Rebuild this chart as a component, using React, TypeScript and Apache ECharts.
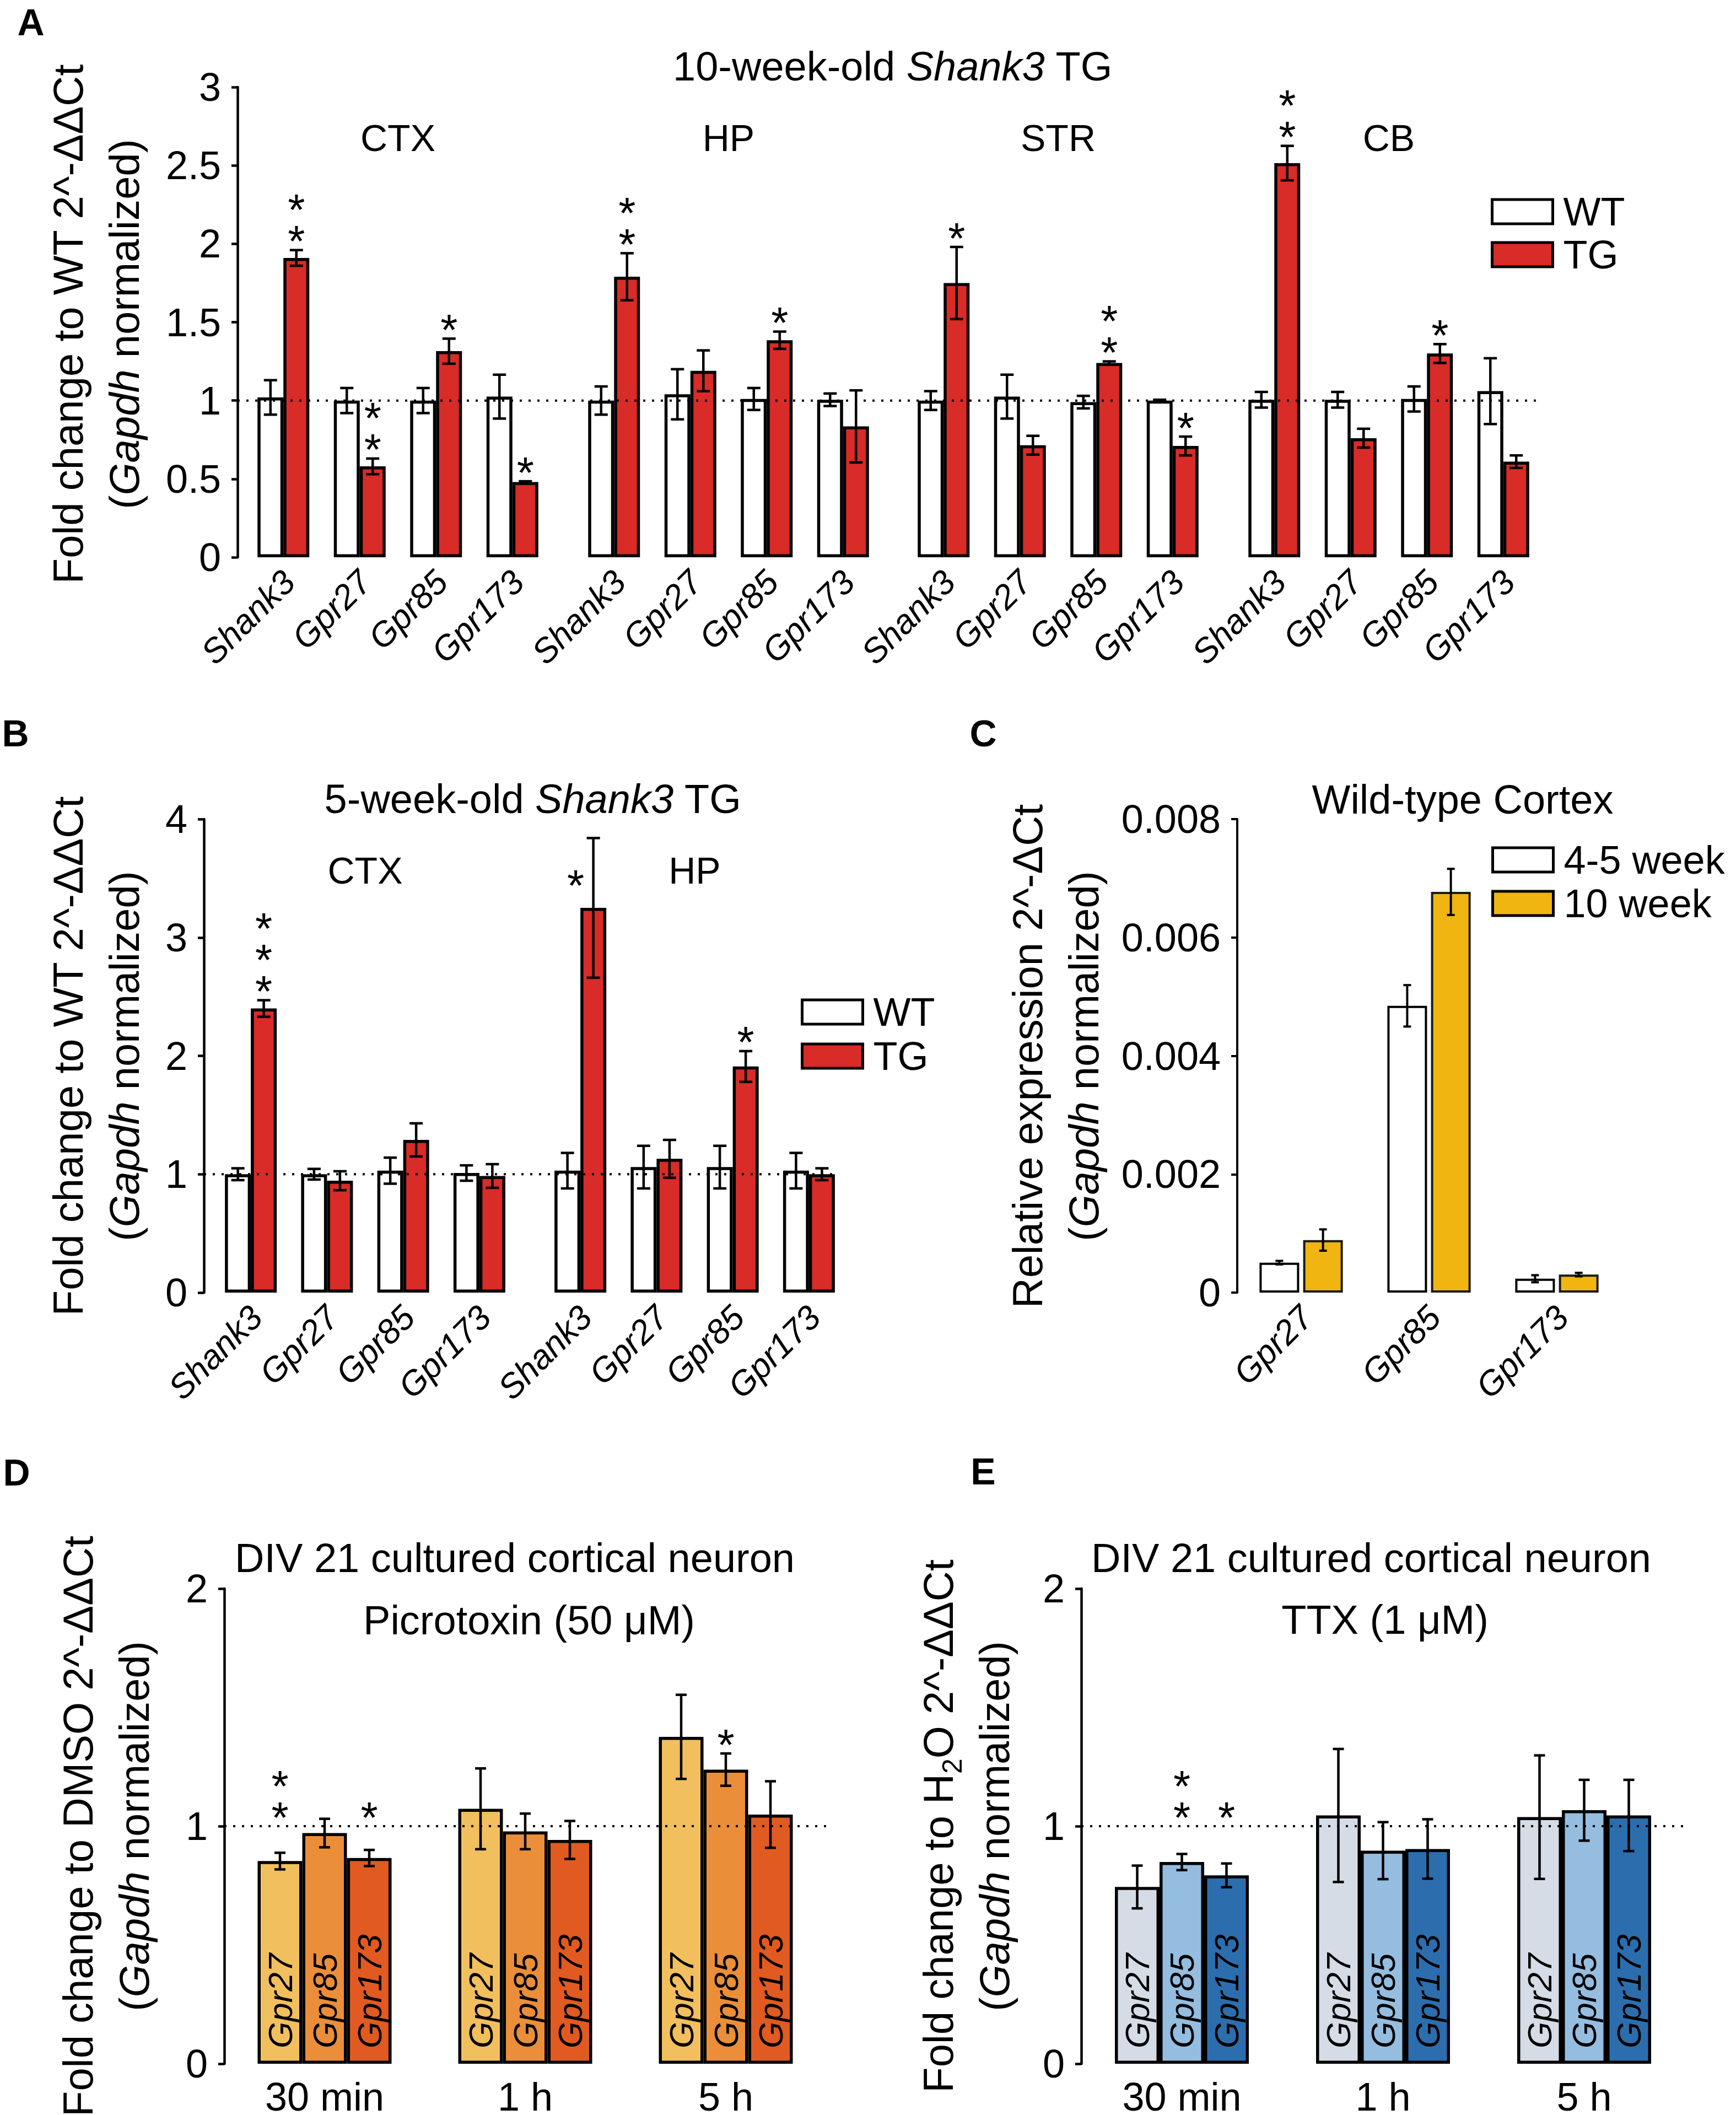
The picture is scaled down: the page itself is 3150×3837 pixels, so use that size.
import React, { useEffect, useRef } from 'react';
import * as echarts from 'echarts';

const FONT = '"Liberation Sans", Arial, Helvetica, sans-serif';

// ---------- Panel A : 10-week-old Shank3 TG ----------
const genesA = ['Shank3', 'Gpr27', 'Gpr85', 'Gpr173'];
const regionsA = ['CTX', 'HP', 'STR', 'CB'];
const wtA = [
  [1.02, 1.0, 1.0, 1.025],
  [1.0, 1.04, 1.01, 1.005],
  [1.0, 1.025, 0.99, 1.0],
  [1.005, 1.005, 1.01, 1.06],
];
const wtErrA = [
  [0.11, 0.08, 0.08, 0.14],
  [0.09, 0.16, 0.07, 0.04],
  [0.06, 0.14, 0.04, 0.005],
  [0.05, 0.05, 0.08, 0.21],
];
const tgA = [
  [1.91, 0.58, 1.315, 0.48],
  [1.79, 1.19, 1.385, 0.835],
  [1.75, 0.715, 1.24, 0.71],
  [2.515, 0.76, 1.3, 0.61],
];
const tgErrA = [
  [0.05, 0.05, 0.08, 0.005],
  [0.15, 0.13, 0.055, 0.23],
  [0.23, 0.06, 0.01, 0.06],
  [0.11, 0.06, 0.06, 0.04],
];
const starsA = [
  ['**', '**', '*', '*'],
  ['**', '', '*', ''],
  ['*', '', '**', '*'],
  ['**', '', '*', ''],
];
const yAxisA = [0, 3, 0.5]; // min, max, interval

// ---------- Panel B : 5-week-old Shank3 TG ----------
const genesB = ['Shank3', 'Gpr27', 'Gpr85', 'Gpr173'];
const regionsB = ['CTX', 'HP'];
const wtB = [
  [1.0, 1.0, 1.03, 1.01],
  [1.03, 1.06, 1.06, 1.03],
];
const wtErrB = [
  [0.05, 0.045, 0.11, 0.065],
  [0.15, 0.18, 0.18, 0.15],
];
const tgB = [
  [2.4, 0.945, 1.29, 0.985],
  [3.25, 1.13, 1.91, 1.0],
];
const tgErrB = [
  [0.07, 0.08, 0.14, 0.1],
  [0.59, 0.16, 0.13, 0.05],
];
const starsB = [
  ['***', '', '', ''],
  ['*', '', '*', ''],
];
const starSideB = [
  ['', '', '', ''],
  ['left', '', '', ''],
];
const yAxisB = [0, 4, 1];

// ---------- Panel C : Wild-type Cortex ----------
const genesC = ['Gpr27', 'Gpr85', 'Gpr173'];
const youngC = [0.000506, 0.004845, 0.000234];
const youngErrC = [0.00003, 0.00035, 0.00006];
const adultC = [0.000888, 0.00677, 0.000304];
const adultErrC = [0.00018, 0.00039, 0.00003];
const yAxisC = [0, 0.008, 0.002];

// ---------- Panel D : Picrotoxin ----------
const timesD = ['30 min', '1 h', '5 h'];
const seriesNamesDE = ['Gpr27', 'Gpr85', 'Gpr173'];
const meansD = [
  [0.853, 1.073, 1.376],
  [0.971, 0.978, 1.238],
  [0.866, 0.942, 1.049],
];
const errsD = [
  [0.035, 0.17, 0.177],
  [0.06, 0.075, 0.068],
  [0.034, 0.08, 0.14],
];
const starsD = [
  ['**', '', ''],
  ['', '', '*'],
  ['*', '', ''],
];

// ---------- Panel E : TTX ----------
const timesE = ['30 min', '1 h', '5 h'];
const meansE = [
  [0.744, 1.045, 1.038],
  [0.849, 0.897, 1.067],
  [0.793, 0.904, 1.045],
];
const errsE = [
  [0.09, 0.28, 0.26],
  [0.034, 0.12, 0.128],
  [0.05, 0.125, 0.15],
];
const starsE = [
  ['', '', ''],
  ['**', '', ''],
  ['*', '', ''],
];
const yAxisDE = [0, 2, 1];
const refLevel = 1;

// ---------- colours ----------
const RED = '#D92B27';
const YELLOW = '#F0B510';
const colorsD = ['#F2BF5E', '#EA8E3A', '#E05A21'];
const colorsE = ['#D5DCE6', '#95BDDF', '#2C6EAD'];

// ---------- star placement ----------
const STAR_GAP = 36;
const STAR_STEP = 57;
const STAR_SHIFT = 20;
const STAR_SIDE_DX = 32;

function errSeries(cfg: any) {
  const { xi, means, errs, offset, capHalf, lw, stars, sides, floor } = cfg;
  const fl = floor === undefined ? -Infinity : floor;
  return {
    type: 'custom',
    xAxisIndex: xi,
    yAxisIndex: xi,
    z: 6,
    silent: true,
    clip: false,
    data: means.map((m: number, i: number) => [i, m, errs[i]]),
    encode: { x: 0, y: 1 },
    renderItem: (params: any, api: any) => {
      const i = api.value(0);
      const m = api.value(1);
      const e = api.value(2);
      const c = api.coord([i, m]);
      const t = api.coord([i, m + e]);
      const b = api.coord([i, m - e]);
      const x = c[0] + offset;
      const ls = { stroke: '#000', lineWidth: lw };
      const children: any[] = [
        { type: 'line', shape: { x1: x, y1: t[1], x2: x, y2: b[1] }, style: ls },
        { type: 'line', shape: { x1: x - capHalf, y1: t[1], x2: x + capHalf, y2: t[1] }, style: ls },
        { type: 'line', shape: { x1: x - capHalf, y1: b[1], x2: x + capHalf, y2: b[1] }, style: ls },
      ];
      const s = stars ? stars[params.dataIndex] : '';
      if (s) {
        const side = sides ? sides[params.dataIndex] : '';
        let sx = x;
        let cy: number;
        if (side === 'left') {
          sx = x - STAR_SIDE_DX;
          cy = api.coord([i, m + e * 0.48])[1];
        } else {
          cy = api.coord([i, Math.max(m + e, fl)])[1] - STAR_GAP;
        }
        for (let k = 0; k < s.length; k++) {
          children.push({
            type: 'text',
            x: sx,
            y: cy - k * STAR_STEP + STAR_SHIFT,
            style: {
              text: '*',
              fontSize: 80,
              fontFamily: FONT,
              fill: '#000',
              align: 'center',
              verticalAlign: 'middle',
            },
          });
        }
      }
      return { type: 'group', children };
    },
  };
}

function visibleY(gi: number, r: number[], lw = 4.5) {
  return {
    type: 'value',
    gridIndex: gi,
    min: r[0],
    max: r[1],
    interval: r[2],
    axisLine: { show: true, lineStyle: { color: '#000', width: lw } },
    axisTick: { show: true, length: 11, lineStyle: { color: '#000', width: lw } },
    axisLabel: { fontSize: 72, fontFamily: FONT, color: '#000', margin: 30 },
    splitLine: { show: false },
  };
}
function hiddenY(gi: number, r: number[]) {
  return { type: 'value', gridIndex: gi, min: r[0], max: r[1], interval: r[2], show: false, splitLine: { show: false } };
}
function hiddenX(gi: number) {
  return { type: 'value', gridIndex: gi, min: 0, max: 1, show: false, splitLine: { show: false } };
}
function geneX(gi: number, data: string[]) {
  return {
    type: 'category',
    gridIndex: gi,
    data,
    axisLine: { show: false },
    axisTick: { show: false },
    axisLabel: {
      interval: 0,
      rotate: 45,
      fontStyle: 'italic',
      fontSize: 62,
      fontFamily: FONT,
      color: '#000',
      margin: 44,
      padding: [0, -14, 0, 0],
    },
  };
}
function timeX(gi: number, data: string[]) {
  return {
    type: 'category',
    gridIndex: gi,
    data,
    axisLine: { show: false },
    axisTick: { show: false },
    axisLabel: { interval: 0, fontSize: 72, fontFamily: FONT, color: '#000', margin: 24 },
  };
}

const dotted = { color: '#000', width: 4, type: [4, 12] as any };

function refLine(gi: number) {
  return {
    type: 'line',
    xAxisIndex: gi,
    yAxisIndex: gi,
    data: [[0, refLevel], [1, refLevel]],
    symbol: 'none',
    silent: true,
    z: 20,
    lineStyle: dotted,
  };
}

function txt(x: number, y: number, text: string, fontSize: number, extra: any = {}) {
  return {
    type: 'text',
    x,
    y,
    silent: true,
    style: {
      text,
      fontSize,
      fontFamily: FONT,
      fill: '#000',
      align: 'center',
      verticalAlign: 'middle',
      ...extra,
    },
  };
}

function yTitle(x: number, y: number, line1: string) {
  return {
    type: 'text',
    x,
    y,
    rotation: Math.PI / 2,
    silent: true,
    style: {
      text: line1 + '\n{a|(}{i|Gapdh}{a| normalized)}',
      fontSize: 76,
      fontFamily: FONT,
      fill: '#000',
      align: 'center',
      verticalAlign: 'middle',
      rich: {
        a: { fontSize: 76, fontFamily: FONT, fill: '#000', lineHeight: 102 },
        i: { fontSize: 76, fontFamily: FONT, fill: '#000', fontStyle: 'italic', lineHeight: 102 },
        s: { fontSize: 50, fontFamily: FONT, fill: '#000', lineHeight: 66, verticalAlign: 'bottom' },
      },
    },
  };
}

function buildOption() {
  const grids: any[] = [];
  const xAxes: any[] = [];
  const yAxes: any[] = [];
  const series: any[] = [];
  const g = (left: number, top: number, width: number, height: number) => {
    grids.push({ left, top, width, height, containLabel: false, outerBoundsMode: 'none' });
    return grids.length - 1;
  };

  // Panel A
  const aTop = 158, aH = 853;
  const a0 = g(431, aTop, 2359, aH);
  xAxes.push(hiddenX(a0));
  yAxes.push(visibleY(a0, yAxisA));
  series.push(refLine(a0));
  const aLefts = [445, 1045, 1643, 2243];
  const aW = 554;
  const regionGraphics: any[] = [];
  regionsA.forEach((reg, r) => {
    const gi = g(aLefts[r], aTop, aW, aH);
    xAxes.push(geneX(gi, genesA));
    yAxes.push(hiddenY(gi, yAxisA));
    series.push({
      type: 'bar', name: 'WT', xAxisIndex: gi, yAxisIndex: gi, data: wtA[r], barWidth: 47, barGap: '0%',
      itemStyle: { color: '#fff', borderColor: '#000', borderWidth: 5.5 },
    });
    series.push({
      type: 'bar', name: 'TG', xAxisIndex: gi, yAxisIndex: gi, data: tgA[r], barWidth: 47, barGap: '0%',
      itemStyle: { color: RED, borderColor: '#000', borderWidth: 5.5 },
    });
    series.push(errSeries({ xi: gi, means: wtA[r], errs: wtErrA[r], offset: -23.5, capHalf: 12, lw: 4.5 }));
    series.push(errSeries({ xi: gi, means: tgA[r], errs: tgErrA[r], offset: 23.5, capHalf: 12, lw: 4.5, stars: starsA[r] }));
    regionGraphics.push(txt(aLefts[r] + aW / 2, 250, reg, 68));
  });

  // Panel B
  const bTop = 1486, bH = 859;
  const b0 = g(370, bTop, 1149, bH);
  xAxes.push(hiddenX(b0));
  yAxes.push(visibleY(b0, yAxisB));
  series.push(refLine(b0));
  const bLefts = [386, 984];
  const bW = 553;
  regionsB.forEach((reg, r) => {
    const gi = g(bLefts[r], bTop, bW, bH);
    xAxes.push(geneX(gi, genesB));
    yAxes.push(hiddenY(gi, yAxisB));
    series.push({
      type: 'bar', name: 'WT', xAxisIndex: gi, yAxisIndex: gi, data: wtB[r], barWidth: 47, barGap: '0%',
      itemStyle: { color: '#fff', borderColor: '#000', borderWidth: 5.5 },
    });
    series.push({
      type: 'bar', name: 'TG', xAxisIndex: gi, yAxisIndex: gi, data: tgB[r], barWidth: 47, barGap: '0%',
      itemStyle: { color: RED, borderColor: '#000', borderWidth: 5.5 },
    });
    series.push(errSeries({ xi: gi, means: wtB[r], errs: wtErrB[r], offset: -23.5, capHalf: 12, lw: 4.5 }));
    series.push(errSeries({
      xi: gi, means: tgB[r], errs: tgErrB[r], offset: 23.5, capHalf: 12, lw: 4.5, stars: starsB[r], sides: starSideB[r],
    }));
    regionGraphics.push(txt(bLefts[r] + bW / 2, 1579, reg, 68));
  });

  // Panel C
  const c0 = g(2245, bTop, 696, bH);
  xAxes.push(geneX(c0, genesC));
  yAxes.push(visibleY(c0, yAxisC, 4));
  series.push({
    type: 'bar', name: '4-5 week', xAxisIndex: c0, yAxisIndex: c0, data: youngC, barWidth: 72, barGap: '10%',
    itemStyle: { color: '#fff', borderColor: '#000', borderWidth: 4 },
  });
  series.push({
    type: 'bar', name: '10 week', xAxisIndex: c0, yAxisIndex: c0, data: adultC, barWidth: 72, barGap: '10%',
    itemStyle: { color: YELLOW, borderColor: '#1a1a1a', borderWidth: 4 },
  });
  series.push(errSeries({ xi: c0, means: youngC, errs: youngErrC, offset: -39.6, capHalf: 7, lw: 4 }));
  series.push(errSeries({ xi: c0, means: adultC, errs: adultErrC, offset: 39.6, capHalf: 7, lw: 4 }));

  // Panels D and E
  const deTop = 2882, deH = 862;
  const panels = [
    { left: 407, width: 1092, times: timesD, means: meansD, errs: errsD, stars: starsD, colors: colorsD },
    { left: 1962, width: 1095, times: timesE, means: meansE, errs: errsE, stars: starsE, colors: colorsE },
  ];
  panels.forEach((p) => {
    const gi = g(p.left, deTop, p.width, deH);
    xAxes.push(timeX(gi, p.times));
    yAxes.push(visibleY(gi, yAxisDE));
    seriesNamesDE.forEach((nm, k) => {
      const bar: any = {
        type: 'bar', name: nm, xAxisIndex: gi, yAxisIndex: gi, data: p.means[k], barWidth: 81, barGap: '0%',
        itemStyle: { color: p.colors[k], borderColor: '#000', borderWidth: 5.5 },
        label: {
          show: true,
          position: 'insideBottom',
          distance: 28,
          rotate: 90,
          align: 'left',
          verticalAlign: 'middle',
          formatter: nm,
          fontStyle: 'italic',
          fontSize: 62,
          fontFamily: FONT,
          color: '#000',
        },
      };
      if (k === 0) {
        bar.markLine = {
          silent: true,
          symbol: 'none',
          label: { show: false },
          lineStyle: dotted,
          z: 20,
          data: [{ yAxis: refLevel }],
        };
      }
      series.push(bar);
    });
    seriesNamesDE.forEach((nm, k) => {
      series.push(errSeries({
        xi: gi, means: p.means[k], errs: p.errs[k], offset: (k - 1) * 81, capHalf: 10, lw: 4.5,
        stars: p.stars[k], floor: refLevel,
      }));
    });
  });

  const legendBase = {
    orient: 'vertical',
    itemWidth: 110,
    itemHeight: 44,
    padding: 0,
    selectedMode: false,
    icon: 'rect',
    textStyle: { fontSize: 72, fontFamily: FONT, color: '#000', padding: [0, 0, 0, 14] },
    itemStyle: { borderWidth: 5, borderColor: '#000' },
  };

  const graphic: any[] = [
    txt(56, 40, 'A', 68, { fontWeight: 'bold' }),
    txt(28, 1330, 'B', 68, { fontWeight: 'bold' }),
    txt(1784, 1330, 'C', 68, { fontWeight: 'bold' }),
    txt(30, 2671, 'D', 68, { fontWeight: 'bold' }),
    txt(1784, 2669, 'E', 68, { fontWeight: 'bold' }),
    txt(1620, 120, '10-week-old {i|Shank3} TG', 74, {
      rich: { i: { fontStyle: 'italic', fontSize: 74, fontFamily: FONT, fill: '#000' } },
    }),
    txt(967, 1449, '5-week-old {i|Shank3} TG', 74, {
      rich: { i: { fontStyle: 'italic', fontSize: 74, fontFamily: FONT, fill: '#000' } },
    }),
    txt(2654, 1450, 'Wild-type Cortex', 74),
    txt(934, 2826, 'DIV 21 cultured cortical neuron', 74),
    txt(960, 2939, 'Picrotoxin (50 μM)', 74),
    txt(2488, 2826, 'DIV 21 cultured cortical neuron', 74),
    txt(2513, 2938, 'TTX (1 μM)', 74),
    ...regionGraphics,
    yTitle(174, 588, '{a|Fold change to WT 2^-ΔΔCt}'),
    yTitle(174, 1916, '{a|Fold change to WT 2^-ΔΔCt}'),
    yTitle(1915, 1916, '{a|Relative expression 2^-ΔCt}'),
    yTitle(192, 3313, '{a|Fold change to DMSO 2^-ΔΔCt}'),
    yTitle(1753, 3313, '{a|Fold change to H}{s|2}{a|O 2^-ΔΔCt}'),
  ];

  return {
    animation: false,
    backgroundColor: '#fff',
    textStyle: { fontFamily: FONT },
    grid: grids,
    xAxis: xAxes,
    yAxis: yAxes,
    series,
    legend: [
      { ...legendBase, data: ['WT', 'TG'], left: 2705, top: 348, itemGap: 6 },
      { ...legendBase, data: ['WT', 'TG'], left: 1453, top: 1800, itemGap: 8 },
      { ...legendBase, data: ['4-5 week', '10 week'], left: 2706, top: 1524, itemGap: 7 },
    ],
    graphic,
  };
}

export default function App() {
  const ref = useRef<HTMLDivElement>(null);
  useEffect(() => {
    document.body.style.margin = '0';
    if (!ref.current) return;
    const chart = echarts.init(ref.current, undefined, { renderer: 'svg' });
    chart.setOption(buildOption() as any);
    return () => {
      chart.dispose();
    };
  }, []);
  return <div ref={ref} style={{ width: 3150, height: 3837, background: '#fff' }} />;
}
